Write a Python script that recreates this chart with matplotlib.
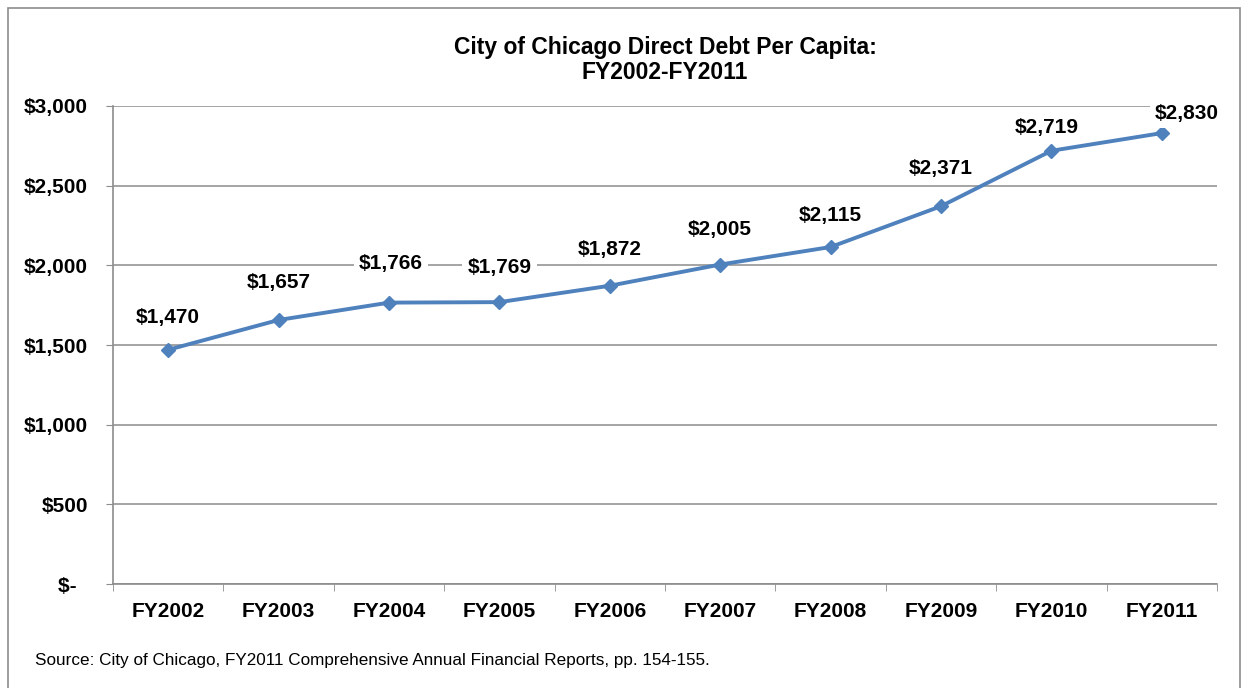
import matplotlib
matplotlib.use("Agg")
from matplotlib import pyplot as plt
from matplotlib.patches import Rectangle
import numpy as np

# data
years = ["FY2002", "FY2003", "FY2004", "FY2005", "FY2006",
         "FY2007", "FY2008", "FY2009", "FY2010", "FY2011"]
debt_per_capita = [1470, 1657, 1766, 1769, 1872, 2005, 2115, 2371, 2719, 2830]
y_ticks = [0, 500, 1000, 1500, 2000, 2500, 3000]
y_tick_labels = ["$-  ", "$500", "$1,000", "$1,500", "$2,000", "$2,500", "$3,000"]

# label nudges in pixels (dx, dy) - labels were placed by hand in the original
label_dx = [0, 0, 2, 0, 0, 0, 0, 0, -5, 25]
label_dy = [32, 37, 39, 35, 36, 35, 32, 38, 23, 20]

plt.rcParams['font.family'] = ['Liberation Sans', 'DejaVu Sans']

fig = plt.figure(figsize=(12.48, 6.88), dpi=100)
ax = fig.add_axes([113/1248, 1 - 584/688, (1217-113)/1248, (584-106)/688])

# outer chart frame
fig.patches.append(Rectangle((8/1248, -0.05), (1240-8)/1248, 1 - 8/688 + 0.05,
                             transform=fig.transFigure, fill=False,
                             edgecolor="#8c8c8c", linewidth=1.2))

x = np.arange(len(years))
ax.plot(x, debt_per_capita, color="#4F81BD", linewidth=2.8, marker="D",
        markersize=7.5, zorder=3)

for i, v in enumerate(debt_per_capita):
    ax.annotate("${:,}".format(v), (x[i], v), xytext=(label_dx[i]*0.72, label_dy[i]*0.72),
                textcoords="offset points", ha="center", va="center",
                fontsize=15, fontweight="bold",
                bbox=dict(boxstyle="square,pad=0.25", fc="white", ec="none"),
                zorder=4)

ax.set_xlim(-0.5, len(years) - 0.5)
ax.set_ylim(0, 3000)
ax.set_yticks(y_ticks)
ax.set_yticklabels(y_tick_labels, fontsize=15, fontweight="bold")
ax.yaxis.grid(True, color="#8c8c8c", linewidth=1.1)
ax.set_axisbelow(True)
ax.tick_params(axis="y", length=5, color="#8c8c8c", pad=13)

ax.set_xticks(x)
ax.set_xticklabels(years, fontsize=15, fontweight="bold")
ax.set_xticks(np.arange(len(years) + 1) - 0.5, minor=True)
ax.tick_params(axis="x", which="major", length=0, pad=13)
ax.tick_params(axis="x", which="minor", length=5, color="#8c8c8c")

for side in ["top", "right"]:
    ax.spines[side].set_visible(False)
for side in ["left", "bottom"]:
    ax.spines[side].set_color("#8c8c8c")
    ax.spines[side].set_linewidth(1.2)

fig.text(665/1248, 1 - 60/688, "City of Chicago Direct Debt Per Capita:\nFY2002-FY2011",
         ha="center", va="center", fontsize=16.5, fontweight="bold", linespacing=1.15)

fig.text(35/1248, 1 - 661/688,
         "Source: City of Chicago, FY2011 Comprehensive Annual Financial Reports, pp. 154-155.",
         ha="left", va="center", fontsize=12.3)

fig.savefig("out.png", dpi=100)
